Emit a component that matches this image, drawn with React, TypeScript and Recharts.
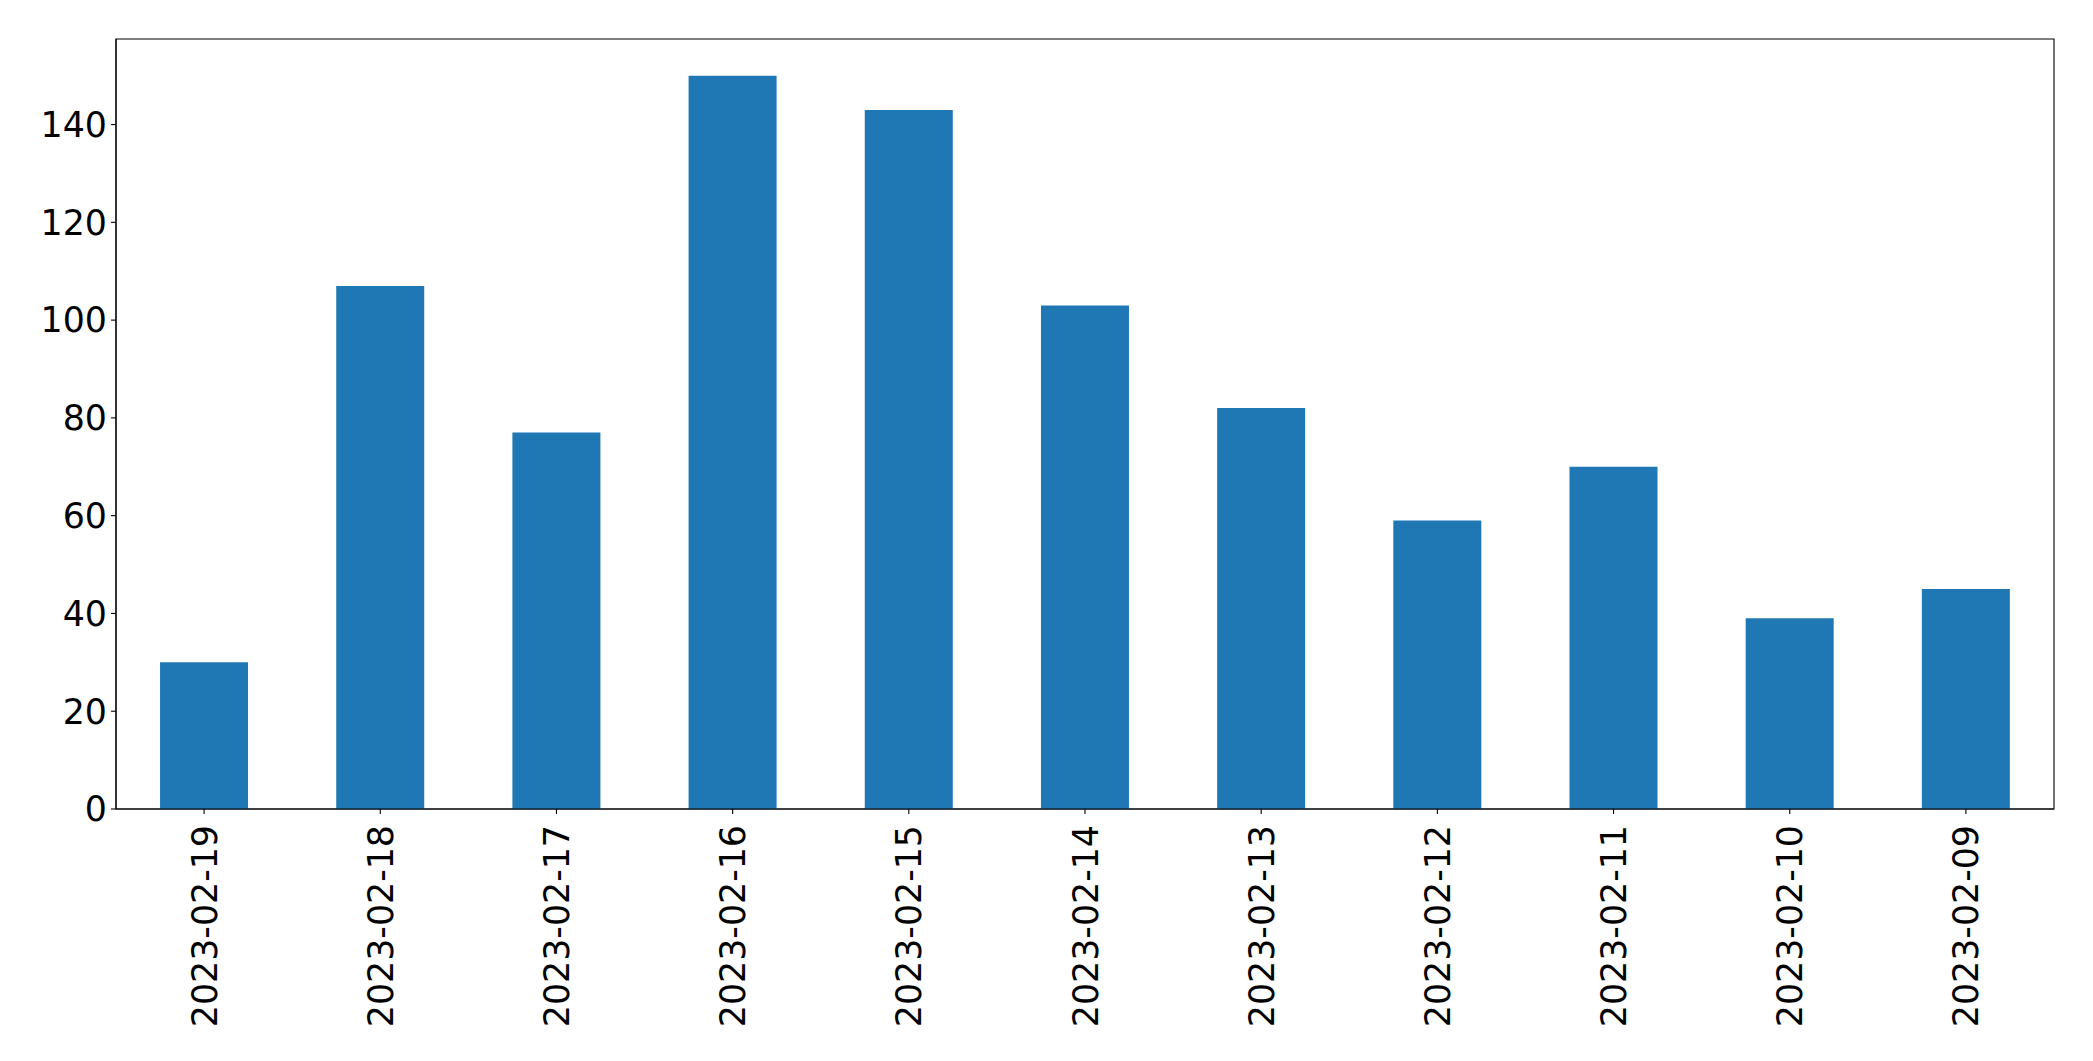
import { BarChart, Bar, XAxis, YAxis, ReferenceArea } from 'recharts';

const dates = [
  '2023-02-19',
  '2023-02-18',
  '2023-02-17',
  '2023-02-16',
  '2023-02-15',
  '2023-02-14',
  '2023-02-13',
  '2023-02-12',
  '2023-02-11',
  '2023-02-10',
  '2023-02-09',
];
const counts = [30, 107, 77, 150, 143, 103, 82, 59, 70, 39, 45];
const yTicks = [0, 20, 40, 60, 80, 100, 120, 140];
const yMax = 157.5;

const data = dates.map((date, i) => ({ date, count: counts[i] }));

const FONT = '"DejaVu Sans", sans-serif';
const FONT_SIZE = 34.8;

const DateTick = (props: any) => {
  const { x, y, payload } = props;
  return (
    <g transform={`translate(${x},${y + 7}) rotate(-90)`}>
      <text
        x={0}
        y={0}
        dy="0.36em"
        textAnchor="end"
        fill="#000"
        fontFamily={FONT}
        fontSize={FONT_SIZE}
      >
        {payload.value}
      </text>
    </g>
  );
};

const App = () => {
  return (
    <div style={{ position: 'absolute', left: 0, top: 0, background: '#fff' }}>
      <BarChart
        width={2093}
        height={1061}
        data={data}
        margin={{ top: 39, right: 39, left: 36, bottom: 12 }}
        barCategoryGap="25%"
      >
        <XAxis
          dataKey="date"
          interval={0}
          height={240}
          tick={<DateTick />}
          tickSize={5}
          tickMargin={4}
          axisLine={{ stroke: '#000', strokeWidth: 1.1 }}
          tickLine={{ stroke: '#000', strokeWidth: 1.1 }}
        />
        <YAxis
          width={80}
          domain={[0, yMax]}
          ticks={yTicks}
          interval={0}
          tickSize={5}
          tickMargin={4}
          tick={{ fill: '#000', fontFamily: FONT, fontSize: FONT_SIZE }}
          axisLine={{ stroke: '#000', strokeWidth: 1.1 }}
          tickLine={{ stroke: '#000', strokeWidth: 1.1 }}
        />
        <Bar dataKey="count" fill="#1f77b4" isAnimationActive={false} />
        <ReferenceArea
          y1={0}
          y2={yMax}
          fill="none"
          fillOpacity={0}
          stroke="#000"
          strokeWidth={1.1}
          ifOverflow="visible"
        />
      </BarChart>
    </div>
  );
};

export default App;
